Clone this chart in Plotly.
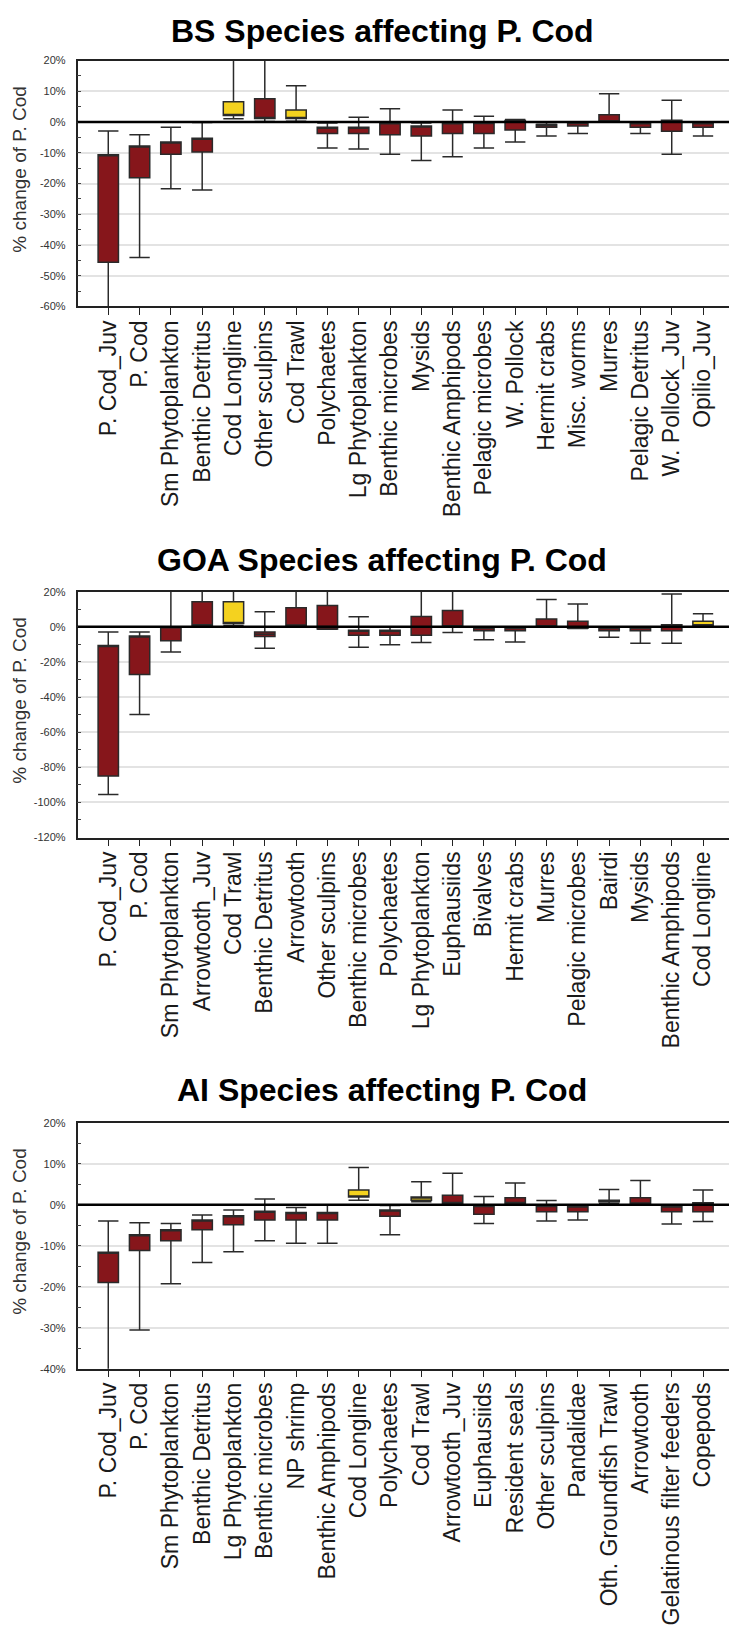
import plotly.graph_objects as go

W, H = 729, 1638

# ---------------- data (percent change of P. Cod) ----------------
bs_labels = ["P. Cod_Juv", "P. Cod", "Sm Phytoplankton", "Benthic Detritus", "Cod Longline",
             "Other sculpins", "Cod Trawl", "Polychaetes", "Lg Phytoplankton", "Benthic microbes",
             "Mysids", "Benthic Amphipods", "Pelagic microbes", "W. Pollock", "Hermit crabs",
             "Misc. worms", "Murres", "Pelagic Detritus", "W. Pollock_Juv", "Opilio_Juv"]
bs_low = [-70, -44.1, -21.7, -22.1, 1.1, 0.2, 0.3, -8.4, -8.8, -10.5,
          -12.5, -11.3, -8.4, -6.5, -4.5, -3.7, 0.0, -3.7, -10.5, -4.5]
bs_q1 = [-45.6, -18.1, -10.5, -9.7, 2.1, 1.2, 1.2, -3.7, -3.7, -4.1,
         -4.5, -3.7, -3.7, -2.6, -1.7, -1.3, 0.1, -1.7, -3.0, -1.7]
bs_med = [-10.8, -8.0, -6.7, -5.5, 2.3, 1.4, 1.3, -1.9, -1.9, -0.4,
          -1.5, -0.4, -0.3, 0.3, -1.0, -0.3, 0.3, -0.4, 0.4, -0.4]
bs_q3 = [-10.6, -7.8, -6.5, -5.3, 6.6, 7.6, 3.9, -1.7, -1.7, -0.2,
         -1.3, -0.2, -0.1, 0.5, -0.8, -0.1, 2.4, -0.2, 0.6, -0.2]
bs_high = [-2.9, -4.1, -1.7, -0.1, 25, 25, 11.8, -0.3, 1.6, 4.3,
           -0.3, 3.9, 1.9, 0.8, -0.1, 0.1, 9.2, 0.0, 7.1, 0.0]
bs_fleet = [False, False, False, False, True, False, True, False, False, False,
            False, False, False, False, False, False, False, False, False, False]
bs_tickvals = [20, 10, 0, -10, -20, -30, -40, -50, -60]
bs_ticktext = ["20%", "10%", "0%", "-10%", "-20%", "-30%", "-40%", "-50%", "-60%"]

goa_labels = ["P. Cod_Juv", "P. Cod", "Sm Phytoplankton", "Arrowtooth_Juv", "Cod Trawl",
              "Benthic Detritus", "Arrowtooth", "Other sculpins", "Benthic microbes", "Polychaetes",
              "Lg Phytoplankton", "Euphausiids", "Bivalves", "Hermit crabs", "Murres",
              "Pelagic microbes", "Bairdi", "Mysids", "Benthic Amphipods", "Cod Longline"]
goa_low = [-95.5, -49.9, -14.3, 0.2, 0.8, -12.2, 0.0, -1.4, -11.7, -10.2,
           -9.0, -3.2, -7.3, -8.7, -0.3, -1.0, -6.0, -9.4, -9.4, 0.0]
goa_q1 = [-85.0, -27.1, -7.9, 0.6, 1.9, -5.5, 0.4, -1.2, -4.8, -4.8,
          -4.8, 0.0, -2.3, -2.3, 0.0, -0.8, -2.3, -2.3, -2.3, 0.6]
goa_med = [-11.0, -5.6, -0.3, 0.8, 2.1, -4.3, 0.7, 0.2, -2.0, -2.0,
           0.0, 0.2, -0.6, -0.6, 0.2, 0.0, -0.6, -0.6, 0.9, 0.8]
goa_q3 = [-10.7, -5.3, 0.0, 14.3, 14.3, -3.0, 10.9, 12.2, -1.9, -1.9,
          5.8, 9.3, -0.4, -0.4, 4.5, 3.2, -0.4, -0.4, 1.1, 3.2]
goa_high = [-3.0, -3.0, 25, 25, 25, 8.6, 25, 25, 5.7, -0.3,
            25, 25, 0.0, 0.0, 15.6, 13.0, 0.0, 0.0, 18.7, 7.5]
goa_fleet = [False, False, False, False, True, False, False, False, False, False,
             False, False, False, False, False, False, False, False, False, True]
goa_tickvals = [20, 0, -20, -40, -60, -80, -100, -120]
goa_ticktext = ["20%", "0%", "-20%", "-40%", "-60%", "-80%", "-100%", "-120%"]

ai_labels = ["P. Cod_Juv", "P. Cod", "Sm Phytoplankton", "Benthic Detritus", "Lg Phytoplankton",
             "Benthic microbes", "NP shrimp", "Benthic Amphipods", "Cod Longline", "Polychaetes",
             "Cod Trawl", "Arrowtooth_Juv", "Euphausiids", "Resident seals", "Other sculpins",
             "Pandalidae", "Oth. Groundfish Trawl", "Arrowtooth", "Gelatinous filter feeders", "Copepods"]
ai_low = [-45, -30.6, -19.3, -14.1, -11.5, -8.8, -9.4, -9.4, 1.1, -7.3,
          0.7, 0.0, -4.6, 0.0, -4.0, -3.7, 0.3, 0.0, -4.7, -4.1]
ai_q1 = [-19.0, -11.2, -8.8, -6.1, -4.9, -3.7, -3.7, -3.7, 1.9, -2.8,
         1.1, 0.3, -2.3, 0.3, -1.7, -1.7, 0.7, 0.2, -1.7, -1.7]
ai_med = [-11.8, -7.5, -6.3, -3.9, -2.9, -1.8, -2.1, -2.1, 2.1, -1.5,
          1.7, 0.5, -0.4, 0.5, -0.4, -0.5, 0.9, 0.4, -0.5, 0.2]
ai_q3 = [-11.6, -7.3, -6.1, -3.7, -2.7, -1.6, -1.9, -1.9, 3.6, -1.3,
         1.9, 2.3, -0.2, 1.7, -0.2, -0.3, 1.1, 1.7, -0.3, 0.5]
ai_high = [-4.0, -4.4, -4.6, -2.5, -1.3, 1.4, -0.7, 0.0, 9.1, -0.2,
           5.6, 7.7, 2.0, 5.3, 1.0, 0.0, 3.7, 5.9, 0.0, 3.6]
ai_fleet = [False, False, False, False, False, False, False, False, True, False,
            True, False, False, False, False, False, True, False, False, False]
ai_tickvals = [20, 10, 0, -10, -20, -30, -40]
ai_ticktext = ["20%", "10%", "0%", "-10%", "-20%", "-30%", "-40%"]

titles = ["BS Species affecting P. Cod", "GOA Species affecting P. Cod", "AI Species affecting P. Cod"]
yranges = [[-60, 20], [-120, 20], [-40, 20]]
minor_steps = [5, 10, 5]
ytitle = "% change of P. Cod"

# ---------------- styling / layout ----------------
RED = "#86161b"
YEL = "#f4d21f"
OUTLINE = "#2a2a2a"
FONT = "Liberation Sans, Arial, Helvetica, sans-serif"

# plot areas in pixels (top, bottom)
areas = [(55.0, 302.7), (590.0, 837.7), (1125.0, 1372.7)]
title_y = [25.0, 558.0, 1092.0]
x_left = 77.6

panels = [
    (bs_labels, bs_low, bs_q1, bs_med, bs_q3, bs_high, bs_fleet, bs_tickvals, bs_ticktext),
    (goa_labels, goa_low, goa_q1, goa_med, goa_q3, goa_high, goa_fleet, goa_tickvals, goa_ticktext),
    (ai_labels, ai_low, ai_q1, ai_med, ai_q3, ai_high, ai_fleet, ai_tickvals, ai_ticktext),
]

fig = go.Figure()
layout = dict(
    width=W, height=H, margin=dict(l=0, r=0, t=0, b=0),
    paper_bgcolor="white", plot_bgcolor="white",
    showlegend=False, boxmode="overlay",
    font=dict(family=FONT, color="#222"),
    annotations=[], shapes=[],
)

for i, (labels, low, q1, med, q3, high, fleet, tv, tt) in enumerate(panels):
    n = i + 1
    xa = "x" if n == 1 else f"x{n}"
    ya = "y" if n == 1 else f"y{n}"
    for is_fleet, color in ((False, RED), (True, YEL)):
        idx = [k for k in range(len(labels)) if fleet[k] == is_fleet]
        if not idx:
            continue
        fig.add_trace(go.Box(
            x=[labels[k] for k in idx],
            q1=[q1[k] for k in idx], median=[med[k] for k in idx], q3=[q3[k] for k in idx],
            lowerfence=[low[k] for k in idx], upperfence=[high[k] for k in idx],
            fillcolor=color, line=dict(color=OUTLINE, width=1.5),
            whiskerwidth=1.0, width=0.65, boxpoints=False,
            xaxis=xa, yaxis=ya, hoverinfo="skip",
        ))
    top, bot = areas[i]
    xkey = "xaxis" if n == 1 else f"xaxis{n}"
    ykey = "yaxis" if n == 1 else f"yaxis{n}"
    layout[xkey] = dict(
        domain=[x_left / W, 1.0], anchor=ya, type="category",
        categoryorder="array", categoryarray=labels,
        range=[-0.98, 19.83], showline=True, linecolor="#222", linewidth=1.5, mirror=True,
        ticks="outside", ticklen=7, tickwidth=1.3, tickcolor="#222",
        tickangle=-90, tickfont=dict(size=23, color="#1a1a1a", family=FONT),
        ticklabelstandoff=-4, showgrid=False, zeroline=False,
    )
    layout[ykey] = dict(
        domain=[1 - bot / H, 1 - top / H], anchor=xa, range=yranges[i],
        tickmode="array", tickvals=tv, ticktext=tt,
        tickfont=dict(size=11, color="#333", family=FONT),
        ticks="inside", ticklen=4, tickcolor="#444", ticklabelstandoff=8,
        minor=dict(tickmode="linear", tick0=0, dtick=minor_steps[i], ticks="inside",
                   ticklen=4, tickcolor="#444", showgrid=False),
        showline=True, linecolor="#222", linewidth=1.5,
        showgrid=True, gridcolor="#e3e3e3", gridwidth=2, zeroline=False,
    )
    # zero reference line on top of boxes
    layout["shapes"].append(dict(
        type="line", xref=f"{xa} domain", yref=ya, x0=0, x1=1, y0=0, y1=0,
        line=dict(color="black", width=2.5), layer="above",
    ))
    layout["annotations"].append(dict(
        text=f"<b>{titles[i]}</b>", xref="paper", yref="paper",
        x=382 / W, y=1 - title_y[i] / H, xanchor="center", yanchor="middle",
        showarrow=False, font=dict(size=32, color="black", family=FONT),
    ))
    layout["annotations"].append(dict(
        text=ytitle, xref="paper", yref="paper", textangle=-90,
        x=20 / W, y=1 - ((top + bot) / 2 - 14) / H, xanchor="center", yanchor="middle",
        showarrow=False, font=dict(size=19, color="#333", family=FONT),
    ))

fig.update_layout(**layout)
fig.write_html("out.html")
